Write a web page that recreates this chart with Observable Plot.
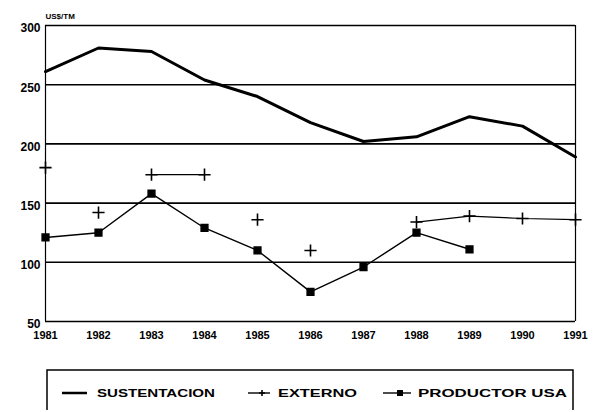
<!DOCTYPE html>
<html>
<head>
<meta charset="utf-8">
<script src="https://cdn.jsdelivr.net/npm/d3@7"></script>
<script src="https://cdn.jsdelivr.net/npm/@observablehq/plot@0.6"></script>
<style>
  html, body { margin: 0; padding: 0; background: #fff; }
  body { width: 600px; height: 412px; overflow: hidden; font-family: "Liberation Sans", Arial, sans-serif; }
  #chart svg { display: block; }
  #legend { display: block; }
</style>
</head>
<body>
<div id="chart"></div>
<svg id="legend" width="600" height="62"></svg>
<script>
// ---- data ----
const years = [1981, 1982, 1983, 1984, 1985, 1986, 1987, 1988, 1989, 1990, 1991];
const yearLabels = ["1981", "1982", "1983", "1984", "1985", "1986", "1987", "1988", "1989", "1990", "1991"];
const sustentacion = [261, 281, 278, 254, 240, 218, 202, 206, 223, 215, 189];
const externo = [180, 142, 174, 174, 136, 110, null, 134, 139, 137, 136];
const externoTramo = [1, 2, 3, 3, 4, 5, null, 6, 6, 6, 6];
const productorUSA = [121, 125, 158, 129, 110, 75, 96, 125, 111, null, null];
const yTicks = [50, 100, 150, 200, 250, 300];
const yUnit = "US$/TM";
const seriesNames = ["SUSTENTACION", "EXTERNO", "PRODUCTOR USA"];

const rows = years.map((yr, i) => ({
  year: yr, sust: sustentacion[i], ext: externo[i], tramo: externoTramo[i], prod: productorUSA[i]
}));
const extRows = rows.filter(d => d.ext != null);
const prodRows = rows.filter(d => d.prod != null);
const fmtYear = d => yearLabels[years.indexOf(d)];

const plot = Plot.plot({
  width: 600,
  height: 350,
  marginTop: 25,
  marginBottom: 29,
  marginLeft: 45,
  marginRight: 25,
  x: { domain: [years[0], years[years.length - 1]] },
  y: { domain: [yTicks[0], yTicks[yTicks.length - 1]] },
  style: { fontFamily: "'Liberation Sans', Arial, sans-serif", background: "white", color: "black" },
  marks: [
    Plot.ruleY(yTicks, { stroke: "black", strokeWidth: 1.6 }),
    Plot.ruleX([years[0], years[years.length - 1]], { stroke: "black", strokeWidth: 1.2 }),
    Plot.axisX({ ticks: years, tickSize: 0, tickPadding: 10, tickFormat: fmtYear, label: null, fontSize: 11, fontWeight: "bold" }),
    Plot.axisY({ ticks: yTicks, tickSize: 0, tickPadding: 5, label: null, fontSize: 12, fontWeight: "bold", dy: 3 }),
    Plot.text([yUnit], { frameAnchor: "top-left", dy: -12, textAnchor: "start", fontSize: 8, fontWeight: "bold" }),
    Plot.line(rows, { x: "year", y: "sust", stroke: "black", strokeWidth: 3 }),
    Plot.line(extRows, { x: "year", y: "ext", z: "tramo", stroke: "black", strokeWidth: 1.2 }),
    Plot.dot(extRows, { x: "year", y: "ext", symbol: "plus", r: 4, stroke: "black", strokeWidth: 1.6 }),
    Plot.line(prodRows, { x: "year", y: "prod", stroke: "black", strokeWidth: 1.4 }),
    Plot.dot(prodRows, { x: "year", y: "prod", symbol: "square", r: 3.8, fill: "black", stroke: "black" })
  ]
});
document.getElementById("chart").appendChild(plot);

// ---- legend (below the plot) ----
const lg = d3.select("#legend");
lg.append("path").attr("d", "M47,60 L47,20 L573,20 L573,60").attr("fill", "none").attr("stroke", "black").attr("stroke-width", 1.5);
const items = [
  { x1: 62, x2: 87, tx: 97, tw: 118, marker: null },
  { x1: 248, x2: 270, tx: 278, tw: 79, marker: "plus" },
  { x1: 383, x2: 411, tx: 418, tw: 149, marker: "square" }
];
items.forEach((it, i) => {
  const cy = 43;
  lg.append("line").attr("x1", it.x1).attr("x2", it.x2).attr("y1", cy).attr("y2", cy)
    .attr("stroke", "black").attr("stroke-width", i === 0 ? 2.5 : 1.4);
  const mx = (it.x1 + it.x2) / 2 + 3;
  if (it.marker === "plus") {
    lg.append("path").attr("d", `M${mx - 3},${cy} H${mx + 3} M${mx},${cy - 3} V${cy + 3}`).attr("stroke", "black").attr("stroke-width", 1.6);
  } else if (it.marker === "square") {
    lg.append("rect").attr("x", mx - 3).attr("y", cy - 3).attr("width", 6).attr("height", 6).attr("fill", "black");
  }
  lg.append("text").attr("x", it.tx).attr("y", cy + 4)
    .attr("font-size", 11).attr("font-weight", "bold")
    .attr("font-family", "'Liberation Sans', Arial, sans-serif")
    .attr("textLength", it.tw).attr("lengthAdjust", "spacingAndGlyphs")
    .text(seriesNames[i]);
});
</script>
</body>
</html>
